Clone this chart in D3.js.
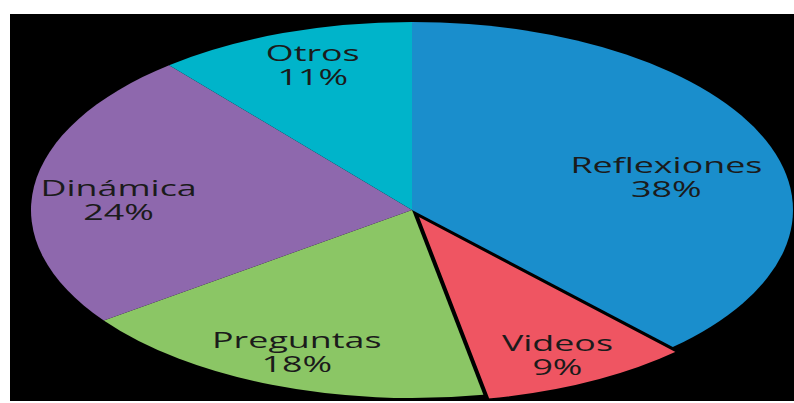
<!DOCTYPE html>
<html><head><meta charset="utf-8">
<script src="https://cdn.jsdelivr.net/npm/d3@7"></script>
<style>html,body{margin:0;padding:0;background:#fff;overflow:hidden}</style>
</head><body>
<svg id="chart" width="794" height="403"></svg>
<script>
const categories = ["Reflexiones", "Videos", "Preguntas", "Dinámica", "Otros"];
const values = [38, 9, 18, 24, 11];
const percentLabels = ["38%", "9%", "18%", "24%", "11%"];
const colors = ["#1A8ECC", "#EF5562", "#8BC665", "#8E68AD", "#00B4CA"];

const svg = d3.select("#chart");
// black plot background
svg.append("rect").attr("x", 10).attr("y", 14).attr("width", 784).attr("height", 387).attr("fill", "#000");

const cx = 412, cy = 210, rx = 381, ry = 188;
const R = ry, sx = rx / ry;
const explodeIdx = 1, explodeDist = 5.5;

const pie = d3.pie().sort(null).value(d => d.v);
const data = categories.map((c, i) => ({c, v: values[i], p: percentLabels[i], col: colors[i], i}));
const arcs = pie(data);
const arc = d3.arc().innerRadius(0).outerRadius(R);

const g = svg.append("g").attr("transform", `translate(${cx},${cy}) scale(${sx},1)`);
g.selectAll("path").data(arcs).join("path")
  .attr("d", arc)
  .attr("fill", d => d.data.col)
  .attr("stroke", d => d.index === explodeIdx ? "#000" : "none")
  .attr("stroke-width", 2.2)
  .attr("vector-effect", "non-scaling-stroke")
  .attr("transform", d => {
    if (d.index !== explodeIdx) return null;
    const a = (d.startAngle + d.endAngle) / 2;
    return `translate(${Math.sin(a) * explodeDist},${-Math.cos(a) * explodeDist})`;
  });
g.selectAll("path").filter(d => d.index === explodeIdx).raise();

const nudge = {0: [-29, 19], 1: [2, 3], 2: [-3, -1], 3: [9, 6], 4: [4, -6]};
const fontSize = 21;
const labels = svg.append("g").attr("font-family", "'Open Sans', sans-serif")
  .attr("font-size", fontSize).attr("font-weight", 500).attr("fill", "#1b1b1b");

const probe = labels.append("text").text("Reflexiones");
const w = probe.node().getComputedTextLength();
probe.remove();
const stretch = 192 / w;

arcs.forEach(d => {
  const a = (d.startAngle + d.endAngle) / 2;
  let x = cx + Math.sin(a) * 0.8 * rx;
  let y = cy - Math.cos(a) * 0.8 * ry;
  if (d.index === explodeIdx) { x += Math.sin(a) * explodeDist * sx; y -= Math.cos(a) * explodeDist; }
  x += nudge[d.index][0]; y += nudge[d.index][1];
  const t = labels.append("text").attr("text-anchor", "middle")
    .attr("transform", `translate(${x},${y}) scale(${stretch},1)`);
  t.append("tspan").attr("x", 0).attr("y", -1).text(d.data.c);
  t.append("tspan").attr("x", 0).attr("y", 23).text(d.data.p);
});
</script>
</body></html>
